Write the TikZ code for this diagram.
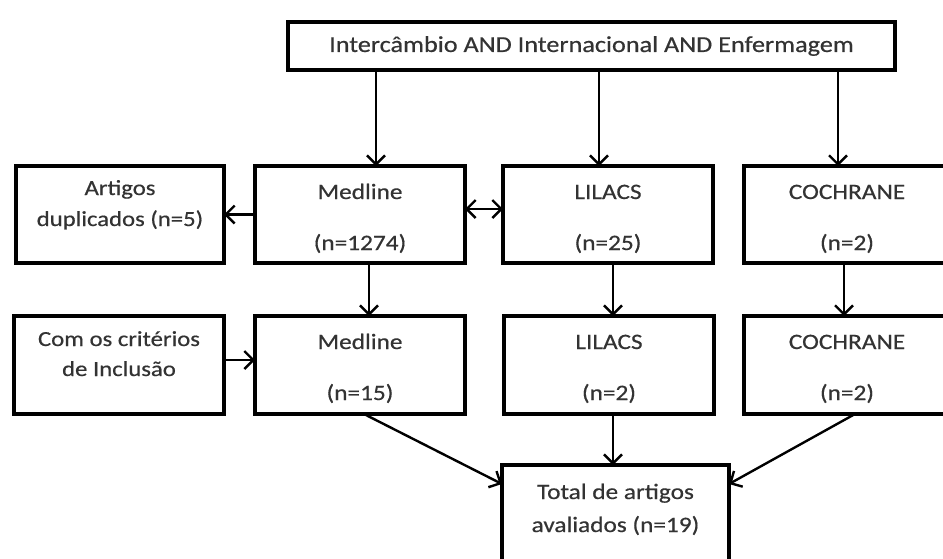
\documentclass[tikz,border=0pt]{standalone}
\usepackage{fontspec}
\setmainfont{Carlito}[FakeStretch=1.15,FakeBold=0.5]
\usetikzlibrary{arrows.meta}
\definecolor{txtgray}{HTML}{333333}
\tikzset{
  bx/.style={draw=black, line width=3.2pt, rectangle, inner sep=0pt, outer sep=0pt,
    align=center, text=txtgray},
  arr/.style={line width=2.4pt, ->},
  darr/.style={line width=2.4pt, <->},
  >={Straight Barb[length=9pt,width=18pt]}
}
\begin{document}
\begin{tikzpicture}[x=1pt,y=-1pt]
\useasboundingbox[fill=white] (0,0) rectangle (943,558);

\node[bx, minimum width=607pt, minimum height=48pt, font=\fontsize{22.8}{26}\selectfont] (top) at (591.5,46) {Intercâmbio AND Internacional AND Enfermagem};

% row 1
\node[bx, minimum width=208pt, minimum height=97pt, text height=60pt, text depth=37pt, font=\fontsize{21.5}{31}\selectfont] (dup) at (120,214.5) {Artigos\\duplicados (n=5)};
\node[bx, minimum width=210pt, minimum height=97pt, text height=84pt, text depth=13pt, font=\fontsize{22}{51}\selectfont] (med1) at (360,214.5) {Medline\\(n=1274)};
\node[bx, minimum width=210pt, minimum height=97pt, text height=84pt, text depth=13pt, font=\fontsize{22}{51}\selectfont] (lil1) at (608,214.5) {LILACS\\(n=25)};
\node[bx, minimum width=206pt, minimum height=97pt, text height=84pt, text depth=13pt, font=\fontsize{22}{51}\selectfont] (coc1) at (847,214.5) {COCHRANE\\(n=2)};

% row 2
\node[bx, minimum width=210pt, minimum height=98pt, text height=60pt, text depth=38pt, font=\fontsize{21.5}{30}\selectfont] (inc) at (119,365) {Com os critérios\\de Inclusão};
\node[bx, minimum width=210pt, minimum height=98pt, text height=84pt, text depth=14pt, font=\fontsize{22}{51}\selectfont] (med2) at (360,365) {Medline\\(n=15)};
\node[bx, minimum width=210pt, minimum height=98pt, text height=84pt, text depth=14pt, font=\fontsize{22}{51}\selectfont] (lil2) at (609,365) {LILACS\\(n=2)};
\node[bx, minimum width=206pt, minimum height=98pt, text height=84pt, text depth=14pt, font=\fontsize{22}{51}\selectfont] (coc2) at (847,365) {COCHRANE\\(n=2)};

% total
\node[bx, minimum width=227pt, minimum height=110pt, text height=67pt, text depth=43pt, font=\fontsize{22}{33}\selectfont] (tot) at (615.5,520) {Total de artigos\\avaliados (n=19)};

% connectors
\draw[arr] ([xshift=16pt]med1.north |- top.south) -- ([xshift=16pt]med1.north);
\draw[arr] ([xshift=-9pt]lil1.north |- top.south) -- ([xshift=-9pt]lil1.north);
\draw[arr] ([xshift=-9pt]coc1.north |- top.south) -- ([xshift=-9pt]coc1.north);

\draw[arr] (med1.west) -- (dup.east);
\draw[darr] ([yshift=5.5pt]med1.east) -- ([yshift=5.5pt]lil1.west);

\draw[arr] ([xshift=9pt]med1.south) -- ([xshift=9pt]med2.north);
\draw[arr] ([xshift=5pt]lil1.south) -- ([xshift=5pt]lil1.south |- lil2.north);
\draw[arr] ([xshift=-3pt]coc1.south) -- ([xshift=-3pt]coc2.north);

\draw[arr] ([yshift=5pt]inc.east) -- ([yshift=5pt]inc.east -| med2.west);

\draw[arr] ([xshift=4pt]med2.south) -- ([yshift=36pt]tot.west);
\draw[arr] ([xshift=4pt]lil2.south) -- ([xshift=4pt]lil2.south |- tot.north);
\draw[arr] ([xshift=8pt]coc2.south) -- ([yshift=36pt]tot.east);
\end{tikzpicture}
\end{document}
